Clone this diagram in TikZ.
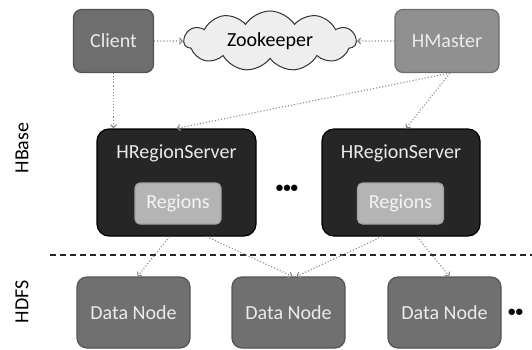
\documentclass[tikz,border=0pt]{standalone}
\usepackage{fontspec}
\setmainfont{Carlito}
\usetikzlibrary{shapes.symbols,arrows.meta,calc}
\definecolor{clientfill}{HTML}{6E6E6E}
\definecolor{masterfill}{HTML}{909090}
\definecolor{rsfill}{HTML}{262626}
\definecolor{regfill}{HTML}{B4B4B4}
\definecolor{dnfill}{HTML}{707070}
\definecolor{cloudfill}{HTML}{EEEEEE}
\definecolor{arrowcol}{HTML}{8A8A8A}
\tikzset{
  box/.style={draw, rounded corners=8pt, line width=1.2pt, inner sep=0pt, text=white!92!black,
    font=\fontsize{20}{22}\selectfont},
  clientbox/.style={box, fill=clientfill, draw=clientfill!75!black, minimum width=80pt, minimum height=63pt},
  masterbox/.style={box, fill=masterfill, draw=masterfill!75!black, minimum width=104pt, minimum height=63pt},
  rsbox/.style={box, fill=rsfill, draw=black, rounded corners=12pt, minimum height=107pt},
  regbox/.style={box, fill=regfill, draw=regfill!90!black, rounded corners=5pt, minimum width=86pt, minimum height=41pt, text=white!85!regfill},
  dnbox/.style={box, fill=dnfill, draw=dnfill!75!black, rounded corners=10pt, minimum width=113pt, minimum height=71pt},
  lbl/.style={font=\fontsize{20}{22}\selectfont, inner sep=0pt},
  conn/.style={draw=arrowcol, line width=1.1pt, dotted, -{Straight Barb[length=3pt,width=6pt]}},
}
\begin{document}
\begin{tikzpicture}[x=1pt,y=-1pt]
\useasboundingbox (0,0) rectangle (532,350);
% top row
\node[clientbox] (client) at (113.5,41) {Client};
\node[cloud, cloud puffs=11, cloud puff arc=115, aspect=2.9, draw=black!80, fill=cloudfill, line width=1pt,
  minimum width=172pt, minimum height=60pt, inner sep=0pt, font=\fontsize{20}{22}\selectfont] (zk) at (270,41) {Zookeeper};
\node[masterbox] (hm) at (447,41) {HMaster};
% region servers
\node[rsbox, minimum width=159pt] (rs1) at (176.5,182.5) {};
\node[lbl, text=white!92!black] (rs1t) at (176.5,153) {HRegionServer};
\node[regbox] (reg1) at (178,203.5) {Regions};
\node[rsbox, minimum width=158pt] (rs2) at (401,182.5) {};
\node[lbl, text=white!92!black] (rs2t) at (401,153) {HRegionServer};
\node[regbox] (reg2) at (400.5,203.5) {Regions};
\node[lbl, font=\fontsize{15}{15}\bfseries] (dots1) at (287,189) {•••};
% separator
\coordinate (sepL) at (50,255);
\coordinate (sepR) at (532,255);
\draw[line width=2pt, dash pattern=on 6pt off 4pt, black!85] (sepL) -- (sepR);
% data nodes
\node[dnbox] (dn1) at (133.5,312.5) {Data Node};
\node[dnbox] (dn2) at (288.5,312.5) {Data Node};
\node[dnbox] (dn3) at (444.5,312.5) {Data Node};
\node[lbl, font=\fontsize{15}{15}\bfseries, anchor=west] (dots2) at (508,313) {••};
% side labels
\node[lbl, rotate=90] (hbase) at (22,148) {HBase};
\node[lbl, rotate=90] (hdfs) at (22,302) {HDFS};
% connectors
\draw[conn] (client) -- (zk);
\draw[conn] (hm) -- (zk);
\draw[conn] (client.south) -- (client.south |- rs1.north);
\draw[conn] ([xshift=3pt]hm.south) -- (rs1.north);
\draw[conn] ([xshift=3pt]hm.south) -- ([xshift=5pt]rs2.north);
\draw[conn] ([xshift=-7pt]rs1.south) -- ([xshift=4pt]dn1.north);
\draw[conn] ([xshift=30pt]rs1.south) -- ([xshift=4pt]dn2.north);
\draw[conn] ([xshift=-19pt]rs2.south) -- ([xshift=8pt]dn2.north);
\draw[conn] ([xshift=16pt]rs2.south) -- ([xshift=5pt]dn3.north);
\end{tikzpicture}
\end{document}
